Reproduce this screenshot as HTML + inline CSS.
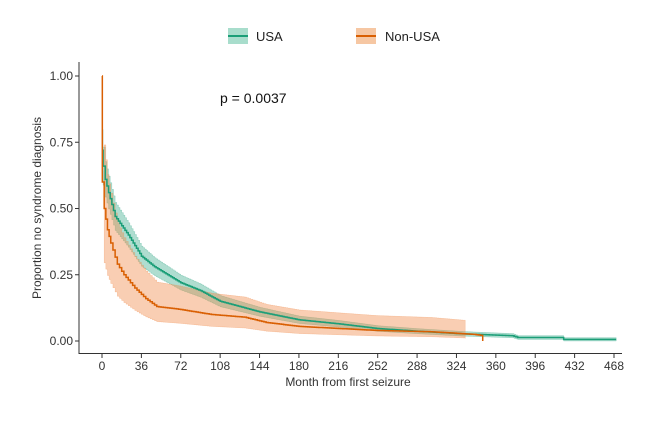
<!DOCTYPE html>
<html><head><meta charset="utf-8"><style>
body{margin:0;background:#fff;width:648px;height:417px;overflow:hidden;font-family:"Liberation Sans",Arial,sans-serif;}
svg text{font-family:"Liberation Sans",Arial,sans-serif;}
</style></head><body>
<svg id="s" width="648" height="417" viewBox="0 0 648 417" xmlns="http://www.w3.org/2000/svg">
<rect width="648" height="417" fill="#fff"/>
<rect x="228" y="28" width="20" height="16" fill="#a8ddcc"/>
<line x1="228" y1="36" x2="248" y2="36" stroke="#1b9e77" stroke-width="2"/>
<text x="256" y="41" font-size="13" fill="#222">USA</text>
<rect x="356" y="28" width="20" height="16" fill="#f6c7a3"/>
<line x1="356" y1="36" x2="376" y2="36" stroke="#d95f02" stroke-width="2"/>
<text x="385" y="41" font-size="13" fill="#222">Non-USA</text>
<g id="plot"></g>
<line x1="79" y1="62" x2="79" y2="354" stroke="#333" stroke-width="1"/>
<line x1="79" y1="353.5" x2="622" y2="353.5" stroke="#333" stroke-width="1"/>
<g id="ticks" font-size="12" fill="#333"></g>
<text x="220" y="103" font-size="14" fill="#111">p = 0.0037</text>
<text x="348" y="386" font-size="12" fill="#333" text-anchor="middle">Month from first seizure</text>
<text transform="translate(41,208) rotate(-90)" font-size="12" fill="#333" text-anchor="middle">Proportion no syndrome diagnosis</text>
</svg>
<script>
var X=function(t){return 102+t*512/468;},Y=function(p){return 341-p*265;};
var NS="http://www.w3.org/2000/svg";
function el(n,a,p){var e=document.createElementNS(NS,n);for(var k in a)e.setAttribute(k,a[k]);(p||document.getElementById('plot')).appendChild(e);return e;}
function interp(pts,n){var out=[];for(var i=0;i<pts.length-1;i++){var a=pts[i],b=pts[i+1];var k=Math.max(1,Math.round((b[0]-a[0])/n));for(var j=0;j<k;j++){out.push([a[0]+(b[0]-a[0])*j/k,a[1]+(b[1]-a[1])*j/k]);}}out.push(pts[pts.length-1]);return out;}
function step(pts,f){var d="";for(var i=0;i<pts.length;i++){var x=X(pts[i][0]),y=Y(f(pts[i][1]));if(i==0)d+="M"+x+","+y;else d+="H"+x+"V"+y;}return d;}
function band(pts,lo,hi){var d=step(pts,hi);var r=pts.slice().reverse();for(var i=0;i<r.length;i++){var x=X(r[i][0]),y=Y(lo(r[i][1]));d+=(i==0?"H"+X(r[0][0])+"V"+y:"V"+y+"H"+x);}return d+"Z";}
var usa=interp([[0,0.72],[1,0.66],[3,0.61],[6,0.56],[12,0.47],[24,0.40],[36,0.32],[48,0.28],[60,0.25],[72,0.22],[90,0.19],[108,0.15],[144,0.11],[180,0.08],[216,0.065],[252,0.047],[288,0.037],[330,0.027],[375,0.02],[380,0.013],[420,0.013],[422,0.006],[470,0.006]],1.5);
var non=interp([[0,1.0],[0.3,0.6],[2,0.5],[5,0.42],[8,0.37],[14,0.29],[20,0.25],[30,0.2],[40,0.16],[50,0.13],[70,0.12],[100,0.1],[130,0.09],[150,0.07],[180,0.055],[250,0.04],[300,0.035],[340,0.025],[348,0.02]],2);
el('path',{d:band(usa,function(p){return Math.max(0,p-0.006-0.1*p);},function(p){return p+0.006+0.1*p;}),fill:"#1b9e77","fill-opacity":0.35,stroke:"#1b9e77","stroke-opacity":0.35,"stroke-width":0.5});
el('path',{d:band(non.filter(function(a){return a[0]<=332&&a[0]>=1}).concat([[332,0.025]]),function(p){return Math.max(0.004,p*0.6-0.005);},function(p){return Math.min(1,p*1.4+0.04);}),fill:"#f08a4b","fill-opacity":0.42,stroke:"#f08a4b","stroke-opacity":0.42,"stroke-width":0.5});
el('path',{d:step(usa,function(p){return p;}),fill:"none",stroke:"#1b9e77","stroke-width":1.5});
el('path',{d:step(non,function(p){return p;})+"V"+Y(0.02)+"V"+Y(0.0),fill:"none",stroke:"#d95f02","stroke-width":1.5});
var T=document.getElementById('ticks');
for(var t=0;t<=468;t+=36){var x=X(t);el('line',{x1:x,y1:354,x2:x,y2:358,stroke:"#333"},T);var tx=el('text',{x:x,y:370,"text-anchor":"middle"},T);tx.textContent=t;}
["0.00","0.25","0.50","0.75","1.00"].forEach(function(s,i){var y=Y(i*0.25);el('line',{x1:75,y1:y,x2:79,y2:y,stroke:"#333"},T);var tx=el('text',{x:73,y:y+4,"text-anchor":"end"},T);tx.textContent=s;});
</script>
</body></html>
